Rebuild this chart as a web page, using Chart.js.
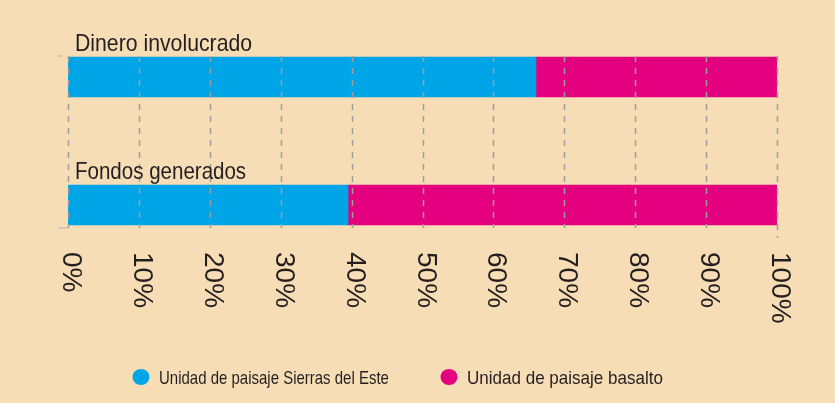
<!DOCTYPE html>
<html>
<head>
<meta charset="utf-8">
<script src="https://cdn.jsdelivr.net/npm/chart.js@4/dist/chart.umd.min.js"></script>
<style>
  html, body { margin: 0; padding: 0; background: #F7DDB5; }
  #wrap { width: 835px; height: 403px; }
</style>
</head>
<body>
<div id="wrap"><canvas id="stackedBar"></canvas></div>
<script>
const categories = ["Dinero involucrado", "Fondos generados"];
const sierrasDelEste = [66, 39.5];
const basalto = [34, 60.5];
const seriesNames = ["Unidad de paisaje Sierras del Este", "Unidad de paisaje basalto"];
const seriesColors = ["#00A5E8", "#E4007F"];

const bg = "#F7DDB5";
const textColor = "#231F20";

// condensed text: regular sans squeezed horizontally
function narrowText(ctx, text, x, y, sx) {
  ctx.save();
  ctx.translate(x, y);
  ctx.scale(sx, 1);
  ctx.fillText(text, 0, 0);
  ctx.restore();
}

// background, dashed grid over the bars, rotated tick labels, titles, legend
const decor = {
  id: "decor",
  beforeDraw(chart) {
    const ctx = chart.ctx;
    ctx.save();
    ctx.fillStyle = bg;
    ctx.fillRect(0, 0, chart.width, chart.height);
    ctx.restore();
  },
  afterDatasetsDraw(chart) {
    const ctx = chart.ctx;
    const x = chart.scales.x, y = chart.scales.y;
    const half = 20;
    const top = y.getPixelForValue(0) - half - 1;
    const bottom = y.getPixelForValue(categories.length - 1) + half + 3;
    ctx.save();
    ctx.strokeStyle = "#9E9E9E";
    ctx.lineWidth = 1.5;
    ctx.setLineDash([6, 6]);
    x.ticks.forEach(t => {
      const px = Math.round(x.getPixelForValue(t.value)) + 0.5;
      ctx.beginPath();
      ctx.moveTo(px, top);
      ctx.lineTo(px, t.value === 100 ? bottom + 10 : bottom);
      ctx.stroke();
    });
    ctx.setLineDash([]);
    ctx.strokeStyle = "#C8C3BC";
    const x0 = x.getPixelForValue(0);
    ctx.beginPath();
    ctx.moveTo(x0 - 10, top); ctx.lineTo(x0 - 5, top);
    ctx.moveTo(x0 - 10, bottom); ctx.lineTo(x0, bottom);
    ctx.stroke();

    // category titles above each bar
    ctx.fillStyle = textColor;
    ctx.font = "24px 'Liberation Sans', Arial, sans-serif";
    ctx.textBaseline = "alphabetic";
    ctx.textAlign = "left";
    const titleSqueeze = [0.885, 0.855];
    categories.forEach((c, i) => {
      narrowText(ctx, c, x0 + 7, y.getPixelForValue(i) - half - 6, titleSqueeze[i]);
    });

    // x tick labels, rotated clockwise
    ctx.font = "28px 'Liberation Sans', Arial, sans-serif";
    x.ticks.forEach(t => {
      const px = x.getPixelForValue(t.value);
      ctx.save();
      ctx.translate(px - 5, 252);
      ctx.rotate(Math.PI / 2);
      ctx.fillText(t.value + "%", 0, 0);
      ctx.restore();
    });

    // legend
    const legendX = [141, 449];
    const legendY = 377;
    const legendSqueeze = [0.81, 0.92];
    ctx.font = "18.5px 'Liberation Sans', Arial, sans-serif";
    chart.data.datasets.forEach((ds, i) => {
      ctx.fillStyle = ds.backgroundColor;
      ctx.beginPath();
      ctx.ellipse(legendX[i], legendY, 8.5, 8, 0, 0, Math.PI * 2);
      ctx.fill();
      ctx.fillStyle = textColor;
      narrowText(ctx, ds.label, legendX[i] + 18, legendY + 7, legendSqueeze[i]);
    });
    ctx.restore();
  }
};

new Chart(document.getElementById("stackedBar").getContext("2d"), {
  type: "bar",
  data: {
    labels: categories,
    datasets: [
      {
        label: seriesNames[0],
        data: sierrasDelEste,
        backgroundColor: seriesColors[0],
        borderWidth: 0,
        barThickness: 40,
      },
      {
        label: seriesNames[1],
        data: basalto,
        backgroundColor: seriesColors[1],
        borderWidth: 0,
        barThickness: 40,
      },
    ],
  },
  options: {
    indexAxis: "y",
    responsive: true,
    maintainAspectRatio: false,
    animation: false,
    layout: { padding: { left: 68, right: 58, top: 13, bottom: 113 } },
    scales: {
      x: {
        stacked: true,
        min: 0,
        max: 100,
        ticks: { display: false, stepSize: 10 },
        grid: { display: false },
        border: { display: false },
        afterFit(scale) { scale.height = 21; },
      },
      y: {
        stacked: true,
        display: false,
      },
    },
    plugins: {
      tooltip: { enabled: false },
      legend: { display: false },
    },
  },
  plugins: [decor],
});
</script>
</body>
</html>
